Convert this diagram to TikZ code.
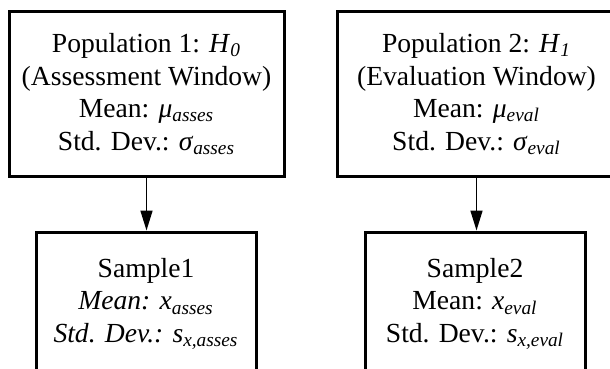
\documentclass[tikz,border=0pt]{standalone}
\usepackage{fontspec}
\setmainfont{Liberation Serif}
\usetikzlibrary{arrows.meta}
\newcommand{\lowsub}[1]{\textsubscript{\itshape #1}}

\begin{document}
\begin{tikzpicture}[x=0.5pt, y=-0.5pt,
  box/.style={draw, line width=1.5pt, align=center, inner sep=0pt,
    font=\fontsize{13.8}{16.25}\selectfont},
  popbox/.style={box, minimum height=82pt},
  sampbox/.style={box, minimum width=110pt, minimum height=72pt},
  arr/.style={line width=0.8pt, -{Triangle[length=10pt, width=6pt]}}]
\useasboundingbox (0,0) rectangle (610,369);
\clip (0,0) rectangle (610,369);
\node[popbox, minimum width=137.5pt] (pop1) at (146.5,94)
  {Population 1: \textit{H}\lowsub{0}\\(Assessment Window)\\
   Mean: \textit{μ}\lowsub{asses}\\Std. Dev.: \textit{σ}\lowsub{asses}};
\node[popbox, minimum width=139.5pt] (pop2) at (476.5,94)
  {Population 2: \textit{H}\lowsub{1}\\(Evaluation Window)\\
   Mean: \textit{μ}\lowsub{eval}\\Std. Dev.: \textit{σ}\lowsub{eval}};
\node[sampbox] (samp1) at (146,304)
  {Sample1\\\textit{Mean: x}\lowsub{asses}\\\textit{Std. Dev.: s}\lowsub{x,asses}};
\node[sampbox] (samp2) at (475,304)
  {Sample2\\Mean: \textit{x}\lowsub{eval}\\Std. Dev.: \textit{s}\lowsub{x,eval}};
\draw[arr] (pop1.south) -- (pop1.south |- samp1.north);
\draw[arr] (pop2.south) -- (pop2.south |- samp2.north);
\end{tikzpicture}
\end{document}
